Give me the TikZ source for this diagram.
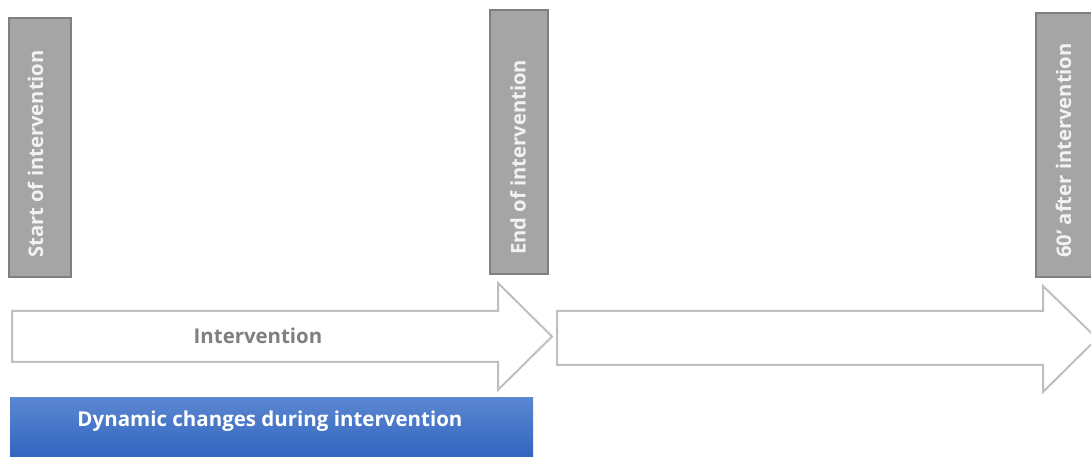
\documentclass[tikz,border=0pt]{standalone}
\usepackage{fontspec}
\setmainfont{Open Sans}
\begin{document}
\begin{tikzpicture}[x=1pt,y=1pt,
  markbox/.style={draw=boxline,fill=boxfill,line width=2pt},
  marktext/.style={text=white!95!black,font=\bfseries\fontsize{20.2}{24}\selectfont,rotate=90,anchor=west,inner sep=0pt},
  timearrow/.style={draw=arrline,fill=white,line width=2pt,line join=miter},
  arrtext/.style={text=arrtextc,font=\bfseries\fontsize{20.4}{24}\selectfont,inner sep=0pt},
  bluebox/.style={top color=bluetop,bottom color=bluebot,draw=none},
  bluetext/.style={text=white,font=\bfseries\fontsize{20.5}{24}\selectfont,inner sep=0pt}]
\definecolor{boxfill}{HTML}{A5A5A5}
\definecolor{boxline}{HTML}{7F7F7F}
\definecolor{arrline}{HTML}{BFBFBF}
\definecolor{arrtextc}{HTML}{7F7F7F}
\definecolor{bluetop}{HTML}{5B87D1}
\definecolor{bluebot}{HTML}{2E62BE}
\useasboundingbox (0,0) rectangle (1091,457);
\clip (0,0) rectangle (1091,457);
\fill[white] (0,0) rectangle (1091,457);
% gray time-point boxes
\draw[markbox] (9,180) rectangle (71,439);
\node[marktext] (start) at (35.5,199) {Start of intervention};
\draw[markbox] (490,183) rectangle (548,447);
\node[marktext] (end) at (518,202) {End of intervention};
\draw[markbox] (1036,180) rectangle (1100,444);
\node[marktext] (after) at (1063.5,199) {60’ after intervention};
% arrows
\draw[timearrow] (12,146) -- (498,146) -- (498,174) -- (552,120.5) -- (498,67) -- (498,95) -- (12,95) -- cycle;
\node[arrtext] (interv) at (258,121) {Intervention};
\draw[timearrow] (557,146) -- (1043,146) -- (1043,171) -- (1097,118.5) -- (1043,65) -- (1043,92) -- (557,92) -- cycle;
% blue box
\shade[bluebox] (10,59) rectangle (533,-5);
\node[bluetext] (dyn) at (270,36) {Dynamic changes during intervention};
\end{tikzpicture}
\end{document}
